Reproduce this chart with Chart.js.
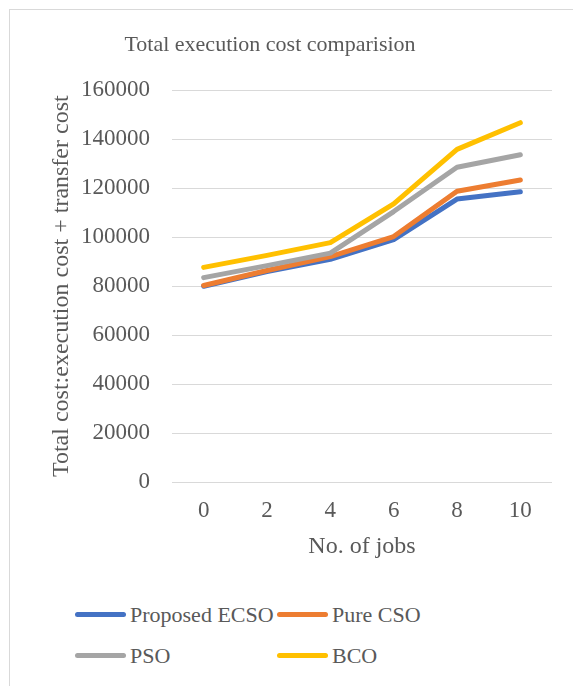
<!DOCTYPE html>
<html>
<head>
<meta charset="utf-8">
<script src="https://cdn.jsdelivr.net/npm/chart.js@4.4.1/dist/chart.umd.min.js"></script>
<style>
  body { margin: 0; background: #fff; overflow: hidden; width: 573px; height: 686px; position: relative; }
  #frame { position: absolute; left: 9px; top: 9px; width: 600px; height: 700px; border: 1px solid #d9d9d9; }
  #wrap { position: absolute; left: -12px; top: 0; width: 585px; height: 565px; }
  #legend { position: absolute; left: 75px; top: 594px; display: grid; grid-template-columns: 202px 202px; grid-auto-rows: 41px; align-items: center;
            font-family: "Liberation Serif", serif; font-size: 22px; font-weight: normal; color: #595959; }
  .item { display: flex; align-items: center; white-space: nowrap; }
  .swatch { width: 51px; height: 5px; border-radius: 3px; margin-right: 4px; }
</style>
</head>
<body>
<div id="frame"></div>
<div id="wrap"><canvas id="costChart"></canvas></div>
<div id="legend"></div>
<script>
// x axis: number of jobs
const jobs = ['0', '2', '4', '6', '8', '10'];

// total cost (execution + transfer) per algorithm
const ecsoCost = [80000, 86000, 91000, 99000, 115600, 118600];
const csoCost  = [80300, 86400, 92100, 100300, 118800, 123400];
const psoCost  = [83500, 88400, 93500, 110500, 128600, 133700];
const bcoCost  = [87700, 92600, 97800, 113600, 135900, 146800];

const textColor = '#595959';
const serif = '"Liberation Serif", serif';

function series(label, data, color, order) {
    return {
        label: label,
        data: data,
        borderColor: color,
        backgroundColor: color,
        borderWidth: 5,
        borderCapStyle: 'round',
        borderJoinStyle: 'round',
        pointRadius: 0,
        tension: 0,
        order: order
    };
}

// legend laid out in two columns below the chart
function buildLegend(chart) {
    const box = document.getElementById('legend');
    box.innerHTML = '';
    chart.data.datasets.forEach(ds => {
        const item = document.createElement('div');
        item.className = 'item';
        const swatch = document.createElement('span');
        swatch.className = 'swatch';
        swatch.style.background = ds.borderColor;
        const text = document.createElement('span');
        text.textContent = ds.label;
        item.appendChild(swatch);
        item.appendChild(text);
        box.appendChild(item);
    });
}

const ctx = document.getElementById('costChart').getContext('2d');
const chart = new Chart(ctx, {
    type: 'line',
    data: {
        labels: jobs,
        datasets: [
            series('Proposed ECSO', ecsoCost, '#4472C4', 3),
            series('Pure CSO', csoCost, '#ED7D31', 2),
            series('PSO', psoCost, '#A5A5A5', 1),
            series('BCO', bcoCost, '#FFC000', 0)
        ]
    },
    options: {
        responsive: true,
        maintainAspectRatio: false,
        animation: false,
        layout: { padding: { left: 0, right: 21, top: 0, bottom: 0 } },
        plugins: {
            legend: { display: false },
            tooltip: { enabled: false },
            title: {
                display: true,
                text: 'Total execution cost comparision',
                color: textColor,
                font: { family: serif, size: 22, weight: 'normal', lineHeight: 1.2 },
                padding: { top: 32, bottom: 32 }
            }
        },
        scales: {
            x: {
                offset: true,
                afterFit: scale => { scale.height = 83; },
                grid: { display: false, drawTicks: false },
                border: { display: false },
                ticks: { color: textColor, padding: 15, font: { family: serif, size: 23, weight: 'normal' } },
                title: {
                    display: true,
                    text: 'No. of jobs',
                    color: textColor,
                    font: { family: serif, size: 24, weight: 'normal', lineHeight: 1.15 },
                    padding: { top: 0, bottom: 4 }
                }
            },
            y: {
                min: 0,
                max: 160000,
                afterFit: scale => { scale.width = 184; },
                grid: { color: '#d9d9d9', lineWidth: 1, drawTicks: false },
                border: { display: false },
                ticks: {
                    stepSize: 20000,
                    color: textColor,
                    padding: 22,
                    font: { family: serif, size: 23, weight: 'normal' },
                    callback: v => String(v)
                },
                title: {
                    display: true,
                    text: 'Total cost:execution cost + transfer cost',
                    color: textColor,
                    font: { family: serif, size: 24, weight: 'normal', lineHeight: 1.15 },
                    padding: { top: 60, bottom: 0 }
                }
            }
        }
    }
});

buildLegend(chart);
</script>
</body>
</html>
